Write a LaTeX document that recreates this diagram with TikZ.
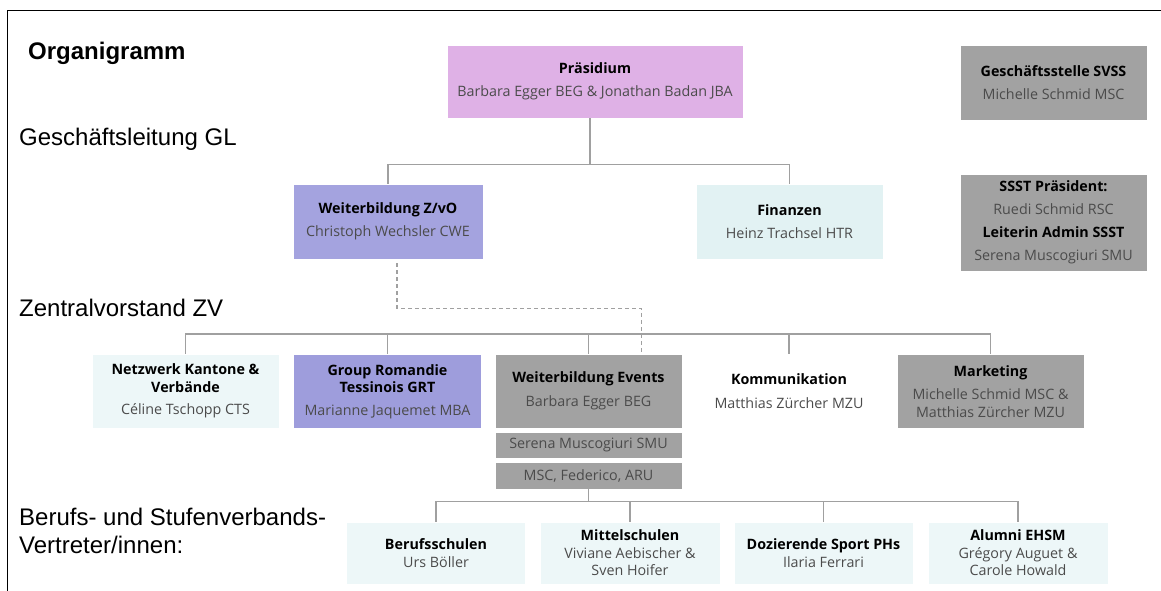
\documentclass[tikz,border=0pt]{standalone}
\usepackage{fontspec}
\setmainfont{Open Sans}
\newfontfamily\headfont{Liberation Sans}
\definecolor{praescol}{RGB}{223,177,230}
\definecolor{lilac}{RGB}{164,163,223}
\definecolor{lilacb}{RGB}{158,157,220}
\definecolor{boxgray}{RGB}{162,162,162}
\definecolor{paleblue}{RGB}{226,242,243}
\definecolor{paleblueb}{RGB}{237,247,248}
\definecolor{namegray}{RGB}{75,75,75}
\definecolor{linegray}{RGB}{160,160,160}
\newcommand{\boxtitle}[1]{{\color{black}\bfseries #1}}
\begin{document}
\begin{tikzpicture}[x=1pt,y=-1pt]
  \tikzstyle{box}=[draw=white,line width=0.8pt,inner sep=0pt,align=center,text=namegray,
    font=\fontsize{14.3}{17.5}\selectfont,minimum width=187pt,minimum height=74pt]
  \tikzstyle{small}=[box,minimum width=179pt,minimum height=62pt]
  \tikzstyle{strip}=[box,fill=boxgray,minimum height=26pt]
  \tikzstyle{link}=[draw=linegray,line width=1.2pt]
  \tikzstyle{head}=[anchor=base west,inner sep=0pt,font=\headfont\fontsize{24}{28}\selectfont]
  \useasboundingbox (0,0) rectangle (1161,591);
  \draw[line width=0.8pt] (1161,10) -- (7,10) -- (7,591);
  \node[head,font=\headfont\bfseries\fontsize{24}{28}\selectfont] (title) at (28,60) {Organigramm};
  \node[head] (gl) at (19,146) {Geschäftsleitung GL};
  \node[head] (zv) at (19,316) {Zentralvorstand ZV};
  \node[head,align=left] (bsv) at (19,553) {Berufs- und Stufenverbands-\\Vertreter/innen:};
  \node[box,fill=praescol,minimum width=296pt,minimum height=73pt] (praes) at (595,81.5)
    {\boxtitle{Präsidium}\\[6pt]Barbara Egger BEG \& Jonathan Badan JBA};
  \node[box,fill=boxgray,minimum height=75pt] (gsvss) at (1053.5,82.5)
    {\boxtitle{Geschäftsstelle SVSS}\\[6pt]Michelle Schmid MSC};
  \node[box,fill=lilac,minimum width=190pt,minimum height=75pt] (wbzvo) at (388,221.5)
    {\boxtitle{Weiterbildung Z/vO}\\[6pt]Christoph Wechsler CWE};
  \node[box,fill=paleblue,minimum height=75pt] (fin) at (789.5,221.5)
    {\boxtitle{Finanzen}\\[6pt]Heinz Trachsel HTR};
  \node[box,fill=boxgray,minimum height=97pt] (ssst) at (1053.5,222.5)
    {\boxtitle{SSST Präsident:}\\[5.5pt]Ruedi Schmid RSC\\[5.5pt]\boxtitle{Leiterin Admin SSST}\\[5.5pt]Serena Muscogiuri SMU};
  \node[box,fill=paleblueb] (netz) at (185.5,391)
    {\boxtitle{Netzwerk Kantone \&}\\\boxtitle{Verbände}\\[5pt]Céline Tschopp CTS};
  \node[box,fill=lilacb,minimum width=188pt] (grt) at (387.5,391.5)
    {\boxtitle{Group Romandie}\\\boxtitle{Tessinois GRT}\\[5pt]Marianne Jaquemet MBA};
  \node[box,fill=boxgray] (wbev) at (588.5,391)
    {\boxtitle{Weiterbildung Events}\\[6pt]Barbara Egger BEG};
  \node[strip] (smu) at (588.5,445) {Serena Muscogiuri SMU};
  \node[strip,minimum height=27pt] (mscf) at (588.5,475.5) {MSC, Federico, ARU};
  \node[box,draw=none] (komm) at (789,391)
    {\boxtitle{Kommunikation}\\[6pt]Matthias Zürcher MZU};
  \node[box,fill=boxgray] (mark) at (990.5,391.5)
    {\boxtitle{Marketing}\\[6pt]Michelle Schmid MSC \&\\Matthias Zürcher MZU};
  \node[small,fill=paleblueb] (beruf) at (436,553) {\boxtitle{Berufsschulen}\\Urs Böller};
  \node[small,fill=paleblueb,minimum width=180pt] (mittel) at (630,553)
    {\boxtitle{Mittelschulen}\\Viviane Aebischer \&\\Sven Hoifer};
  \node[small,fill=paleblueb] (doz) at (823.5,553) {\boxtitle{Dozierende Sport PHs}\\Ilaria Ferrari};
  \node[small,fill=paleblueb,minimum width=180pt] (alumni) at (1018,553)
    {\boxtitle{Alumni EHSM}\\Grégory Auguet \&\\Carole Howald};
  \draw[link] ([xshift=-5pt]praes.south) -- ++(0,46) coordinate (glbus);
  \draw[link] (wbzvo.north) |- (glbus) -| (fin.north);
  \draw[link,dash pattern=on 4pt off 3pt] ([xshift=9pt,yshift=-4pt]wbzvo.south) -- ++(0,45)
    -| ([xshift=53pt]wbev.north);
  \coordinate (zvbus) at (0,334);
  \draw[link] (netz.north) -- (netz.north |- zvbus) -- (mark.north |- zvbus) -- (mark.north);
  \foreach \n in {grt,wbev,komm}
    \draw[link] (\n.north) -- (\n.north |- zvbus);
  \draw[link] (mscf.south) -- ++(0,12) coordinate (vbus);
  \draw[link] (beruf.north) |- (vbus) -| (alumni.north);
  \foreach \n in {mittel,doz}
    \draw[link] (\n.north) -- (\n.north |- vbus);
\end{tikzpicture}
\end{document}
